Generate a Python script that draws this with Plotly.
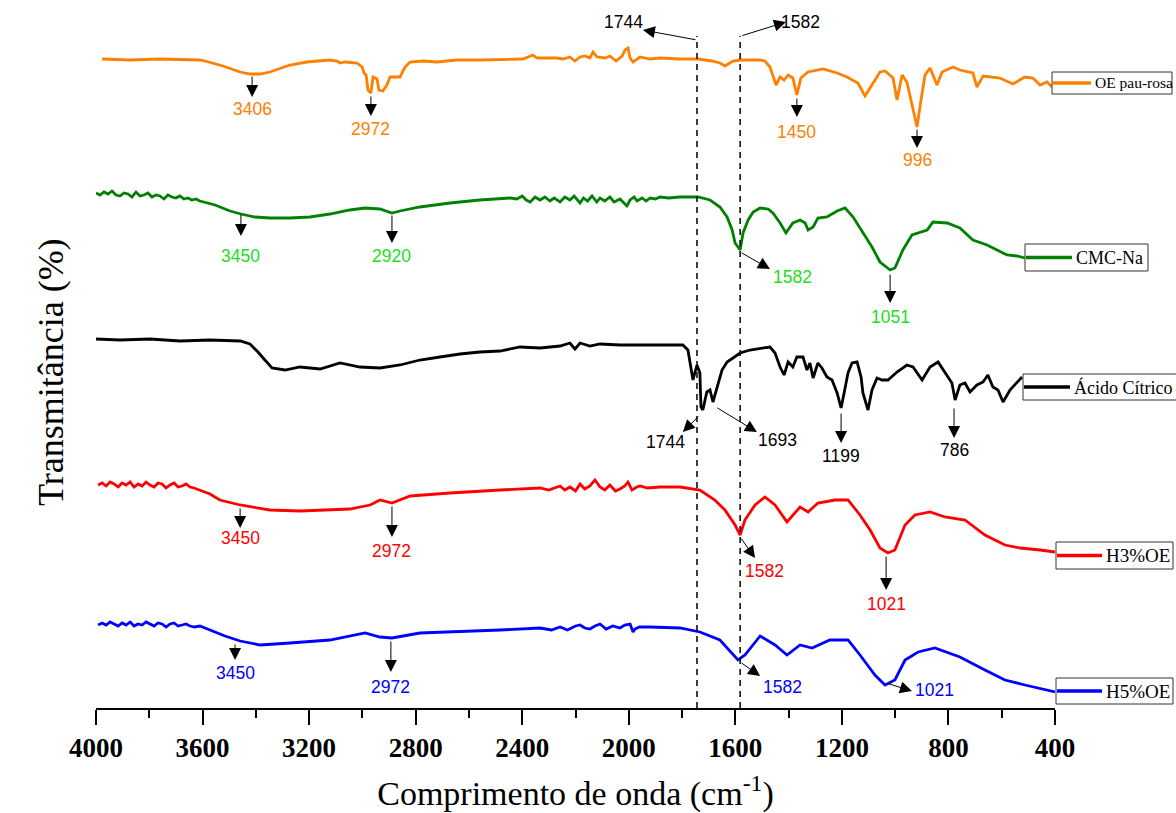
import plotly.graph_objects as go

# ---------------- data (wavenumber cm-1, transmittance in arbitrary stacked units) -------------
oe_wn = [3977, 3872, 3760, 3610, 3591, 3523, 3459, 3422, 3384, 3347, 3272, 3208, 3122, 3095, 3084, 3065,
         3020, 3001, 2994, 2986, 2979, 2968, 2960, 2945, 2938, 2923, 2908, 2896, 2859, 2840, 2821, 2772,
         2720, 2645, 2559, 2397, 2360, 2345, 2270, 2247, 2221, 2202, 2183, 2164, 2146, 2134, 2119, 2089,
         2071, 2048, 2025, 2014, 2003, 1995, 1984, 1958, 1920, 1883, 1808, 1740, 1688, 1658, 1639, 1609,
         1582, 1507, 1489, 1470, 1447, 1432, 1417, 1402, 1384, 1369, 1354, 1327, 1271, 1218, 1181, 1140,
         1113, 1087, 1057, 1038, 1008, 993, 974, 956, 933, 918, 903, 888, 869, 843, 824, 783, 757, 708,
         693, 670, 607, 558, 513, 483, 456, 430, 411]
oe_t = [649, 648, 649, 648, 647, 642, 636, 634, 634, 636, 643, 646, 648, 647, 645, 646,
        645, 641, 635, 633, 618, 615, 631, 629, 618, 617, 623, 631, 631, 641, 646, 647,
        646, 648, 648, 649, 653, 650, 650, 649, 651, 647, 651, 652, 650, 656, 651, 650,
        652, 647, 652, 658, 660, 650, 646, 651, 649, 650, 649, 649, 647, 645, 642, 647,
        648, 648, 647, 641, 623, 631, 628, 633, 630, 613, 630, 636, 639, 635, 631, 625,
        612, 623, 636, 637, 630, 608, 633, 626, 600, 581, 608, 633, 640, 623, 636, 641, 638, 635,
        621, 632, 630, 624, 631, 630, 623, 626, 621]

cmc_wn = [4000, 3985, 3970, 3955, 3940, 3925, 3910, 3895, 3880, 3865, 3850, 3835, 3820, 3805, 3790, 3775,
          3760, 3745, 3730, 3715, 3700, 3685, 3670, 3655, 3640, 3625, 3610, 3553, 3497, 3456, 3403, 3347,
          3272, 3197, 3122, 3047, 2990, 2934, 2889, 2859, 2784, 2671, 2559, 2446, 2420, 2400, 2385, 2370,
          2352, 2333, 2315, 2296, 2280, 2258, 2240, 2221, 2205, 2183, 2170, 2155, 2138, 2120, 2108, 2090,
          2071, 2055, 2033, 2020, 2007, 1995, 1980, 1969, 1950, 1935, 1920, 1900, 1883, 1850, 1808, 1740,
          1695, 1658, 1631, 1612, 1601, 1582, 1571, 1552, 1533, 1507, 1477, 1459, 1432, 1410, 1384, 1357,
          1338, 1327, 1308, 1290, 1256, 1218, 1188, 1158, 1121, 1087, 1057, 1019, 1001, 971, 937, 907, 880,
          858, 805, 757, 708, 655, 618, 580, 543, 513]
cmc_t = [515, 513, 516, 514, 517, 513, 512, 515, 514, 511, 516, 512, 513, 515, 511, 513,
         512, 509, 513, 511, 510, 512, 509, 510, 508, 509, 507, 503, 497, 494, 491, 490,
         490, 491, 494, 498, 500, 499, 495, 497, 501, 505, 508, 510, 509, 512, 508, 506,
         511, 508, 511, 507, 510, 506, 511, 508, 512, 505, 510, 507, 512, 506, 510, 507,
         511, 506, 509, 505, 502, 508, 511, 507, 510, 507, 510, 509, 511, 510, 511, 511,
         508, 501, 491, 478, 465, 458, 475, 488, 496, 500, 499, 495, 485, 475, 485, 488,
         485, 478, 481, 490, 491, 497, 500, 491, 475, 461, 446, 438, 440, 458, 473, 476, 478,
         486, 485, 480, 468, 463, 458, 453, 452, 450]

ac_wn = [4000, 3910, 3797, 3685, 3572, 3459, 3422, 3392, 3366, 3339, 3291, 3234, 3159, 3084, 3009, 2934,
         2859, 2784, 2709, 2634, 2559, 2483, 2408, 2333, 2258, 2221, 2202, 2183, 2146, 2108, 2033, 1958,
         1797, 1778, 1770, 1759, 1744, 1733, 1729, 1722, 1707, 1695, 1684, 1669, 1650, 1631, 1582, 1545,
         1470, 1451, 1432, 1417, 1402, 1384, 1369, 1346, 1331, 1320, 1308, 1290, 1275, 1256, 1237, 1218,
         1203, 1188, 1177, 1162, 1143, 1128, 1121, 1102, 1087, 1068, 1049, 1027, 993, 956, 933, 899, 869,
         839, 813, 787, 775, 757, 738, 719, 693, 670, 652, 633, 614, 595, 569, 543, 524]
ac_t = [369, 368, 369, 367, 368, 367, 364, 356, 348, 340, 338, 341, 339, 345, 341, 340,
        343, 348, 351, 354, 356, 357, 361, 360, 362, 365, 359, 365, 362, 364, 363, 363,
        363, 358, 345, 328, 343, 335, 301, 298, 316, 318, 306, 321, 338, 346, 355, 358,
        361, 355, 341, 333, 346, 341, 351, 351, 338, 345, 330, 345, 340, 331, 328, 315,
        300, 320, 335, 345, 346, 331, 315, 298, 318, 330, 328, 328, 336, 343, 341, 328, 341,
        346, 335, 325, 308, 323, 325, 316, 323, 326, 333, 321, 318, 306, 318, 326, 331]

h3_wn = [3992, 3977, 3962, 3947, 3932, 3917, 3902, 3887, 3872, 3857, 3842, 3827, 3812, 3797, 3782, 3767,
         3752, 3737, 3722, 3707, 3692, 3677, 3662, 3647, 3632, 3610, 3572, 3535, 3459, 3347, 3234,
         3047, 2971, 2934, 2889, 2821, 2671, 2483, 2333, 2300, 2258, 2240, 2221, 2200, 2183, 2165, 2146,
         2127, 2108, 2090, 2071, 2050, 2033, 2015, 2003, 1988, 1970, 1958, 1930, 1883, 1808, 1733, 1677,
         1639, 1601, 1582, 1564, 1526, 1489, 1451, 1406, 1357, 1327, 1290, 1226, 1177, 1132, 1094, 1057,
         1027, 1001, 963, 926, 869, 813, 738, 663, 588, 531, 456, 400]
h3_t = [223, 225, 222, 226, 224, 221, 225, 223, 226, 221, 224, 222, 226, 223, 221, 225,
        224, 220, 223, 225, 221, 222, 224, 221, 220, 218, 214, 208, 203, 198, 197,
        199, 203, 208, 205, 212, 215, 218, 220, 218, 222, 218, 221, 217, 224, 219, 222,
        228, 221, 218, 223, 217, 219, 222, 226, 218, 221, 222, 220, 221, 221, 218, 208,
        198, 183, 173, 188, 203, 211, 203, 186, 201, 196, 205, 208, 208, 193, 178, 160,
        155, 158, 183, 193, 196, 191, 188, 173, 163, 160, 158, 156]

h5_wn = [3992, 3977, 3962, 3947, 3932, 3917, 3902, 3887, 3872, 3857, 3842, 3827, 3812, 3797, 3782, 3767,
         3752, 3737, 3722, 3707, 3692, 3677, 3662, 3647, 3630, 3610, 3572, 3516, 3459, 3384, 3272, 3122,
         2990, 2934, 2889, 2784, 2483, 2333, 2290, 2258, 2230, 2200, 2183, 2165, 2146, 2127, 2108, 2085,
         2060, 2033, 2015, 1995, 1984, 1977, 1960, 1920, 1808, 1733, 1658, 1590, 1564, 1507, 1451, 1406,
         1357, 1312, 1245, 1177, 1132, 1076, 1038, 1001, 963, 914, 851, 757, 663, 588, 513, 400]
h5_t = [83, 85, 83, 86, 84, 82, 85, 83, 86, 82, 84, 83, 86, 84, 82, 85,
        84, 81, 84, 85, 82, 83, 84, 82, 81, 82, 78, 72, 67, 63, 65, 68,
        75, 71, 70, 75, 78, 80, 78, 81, 78, 82, 83, 80, 79, 82, 84, 79,
        82, 80, 83, 84, 76, 79, 81, 81, 80, 76, 68, 48, 53, 72, 63, 53,
        63, 60, 68, 68, 53, 33, 23, 28, 48, 56, 60, 51, 38, 28, 23, 16]

series_names = ["OE pau-rosa", "CMC-Na", "Ácido Cítrico", "H3%OE", "H5%OE"]
series_colors = ["#FF8000", "#008000", "#000000", "#FF0000", "#0000FF"]
label_colors = ["#FF8000", "#22DD22", "#000000", "#FF0000", "#0000FF"]

# peak marks: (tail_wn, tail_t, head_wn, head_t, label_wn, label_t, text, series index)
peak_marks = [
    (3414, 633, 3414, 611, 3414, 599, "3406", 0),
    (2968, 613, 2968, 592, 2968, 579, "2972", 0),
    (1369, 611, 1369, 591, 1369, 576, "1450", 0),
    (918, 580, 918, 560, 918, 548, "996", 0),
    (3456, 495, 3456, 472, 3456, 452, "3450", 1),
    (2889, 494, 2889, 465, 2889, 452, "2920", 1),
    (1582, 456, 1470, 439, 1384, 431, "1582", 1),
    (1019, 435, 1019, 405, 1019, 391, "1051", 1),
    (1733, 293, 1797, 276, 1864, 266, "1744", 2),
    (1673, 301, 1519, 276, 1440, 268, "1693", 2),
    (1203, 296, 1203, 265, 1203, 252, "1199", 2),
    (779, 301, 779, 270, 779, 258, "786", 2),
    (3459, 201, 3459, 180, 3459, 170, "3450", 3),
    (2889, 203, 2889, 171, 2889, 157, "2972", 3),
    (1582, 171, 1526, 150, 1489, 137, "1582", 3),
    (1034, 153, 1034, 118, 1034, 104, "1021", 3),
    (3478, 65, 3478, 48, 3478, 35, "3450", 4),
    (2893, 68, 2893, 36, 2893, 21, "2972", 4),
    (1582, 46, 1507, 32, 1422, 21, "1582", 4),
    (1034, 25, 937, 17, 851, 18, "1021", 4),
]
ref_lines = [1744, 1582]
top_marks = [(1744, 668, 1947, 678, 2018, 686, "1744"), (1579, 672, 1410, 686, 1357, 686, "1582")]

# ---------------- figure -------------
W, H = 1176, 813
L, R, T, B = 96, 121, 0, 105
PW, PH = W - L - R, H - T - B


def px(xp):
    return (xp - L) / PW


def py(yp):
    return (H - B - yp) / PH


fig = go.Figure()
all_wn = [oe_wn, cmc_wn, ac_wn, h3_wn, h5_wn]
all_t = [oe_t, cmc_t, ac_t, h3_t, h5_t]
for wn, t, nm, col in zip(all_wn, all_t, series_names, series_colors):
    fig.add_trace(go.Scatter(x=wn, y=t, mode="lines", name=nm,
                             line=dict(color=col, width=2.8), showlegend=False))

ann = []
for (tx, ty, hx, hy, lx, ly, txt, si) in peak_marks:
    ann.append(dict(x=hx, y=hy, ax=tx, ay=ty, axref="x", ayref="y", xref="x", yref="y",
                    text="", showarrow=True, arrowhead=2, arrowsize=2.4, arrowwidth=1,
                    arrowcolor="black"))
    ann.append(dict(x=lx, y=ly, xref="x", yref="y", text=txt, showarrow=False,
                    font=dict(family="Liberation Sans, Arial", size=17.5, color=label_colors[si])))
for (tx, ty, hx, hy, lx, ly, txt) in top_marks:
    ann.append(dict(x=hx, y=hy, ax=tx, ay=ty, axref="x", ayref="y", xref="x", yref="y",
                    text="", showarrow=True, arrowhead=2, arrowsize=2.4, arrowwidth=1,
                    arrowcolor="black"))
    ann.append(dict(x=lx, y=ly, xref="x", yref="y", text=txt, showarrow=False,
                    font=dict(family="Liberation Sans, Arial", size=17.5, color="black")))

shapes = []
for wn in ref_lines:
    shapes.append(dict(type="line", xref="x", yref="y", x0=wn, x1=wn, y0=0, y1=672,
                       line=dict(color="black", width=1.5, dash="6px,5px")))

# legend boxes at the right end of each spectrum (pixel layout)
legend_boxes = [  # x0, y0, x1, y1, line_end, font size
    (1052, 72, 1172, 94, 1091, 15.5),
    (1025, 244, 1148, 271, 1072, 18),
    (1023, 374, 1182, 400, 1070, 18),
    (1056, 542, 1173, 569, 1102, 19),
    (1056, 678, 1173, 704, 1102, 19),
]
for (x0, y0, x1, y1, le, fs), nm, col in zip(legend_boxes, series_names, series_colors):
    shapes.append(dict(type="rect", xref="paper", yref="paper", x0=px(x0), x1=px(x1),
                       y0=py(y1), y1=py(y0), line=dict(color="#333333", width=1),
                       fillcolor="white", layer="above"))
    ym = (y0 + y1) / 2
    shapes.append(dict(type="line", xref="paper", yref="paper", x0=px(x0 + 1), x1=px(le),
                       y0=py(ym), y1=py(ym), line=dict(color=col, width=3.5), layer="above"))
    ann.append(dict(x=px(le + 2), y=py(ym), xref="paper", yref="paper", xanchor="left",
                    yanchor="middle", text=nm, showarrow=False,
                    font=dict(family="Liberation Serif", size=fs, color="black")))

ann.append(dict(x=px(29), y=py(372), xref="paper", yref="paper", text="Transmitância (%)",
                textangle=-90, showarrow=False,
                font=dict(family="Liberation Serif", size=36, color="black")))

fig.update_layout(
    width=W, height=H, margin=dict(l=L, r=R, t=T, b=B),
    paper_bgcolor="white", plot_bgcolor="white",
    shapes=shapes, annotations=ann,
    xaxis=dict(range=[4000, 400], showgrid=False, zeroline=False, showline=True,
               linecolor="black", linewidth=2, ticks="outside", ticklen=15, tickwidth=2,
               tickcolor="black", tick0=400, dtick=400,
               minor=dict(ticks="outside", ticklen=8, tickwidth=2, tickcolor="black", dtick=200),
               tickfont=dict(family="Liberation Serif", size=27, color="black", weight="bold"),
               title=dict(text="Comprimento de onda (cm<sup>-1</sup>)", standoff=20,
                          font=dict(family="Liberation Serif", size=34, color="black"))),
    yaxis=dict(range=[0, 708], visible=False),
)

fig.write_html("out.html")
